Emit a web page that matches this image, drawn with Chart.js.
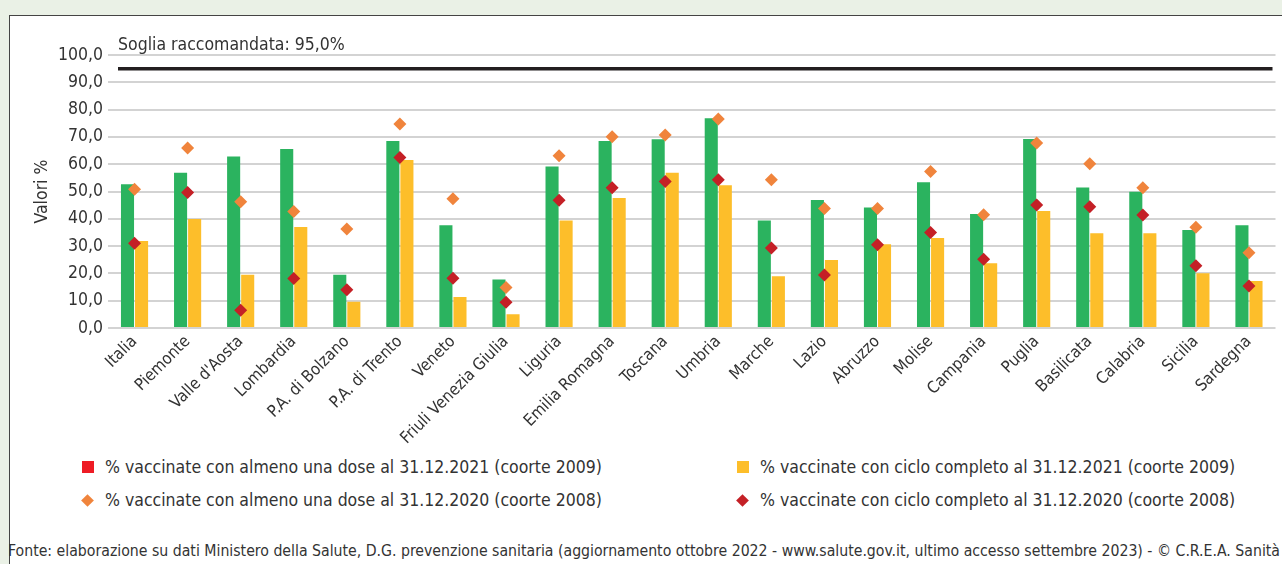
<!DOCTYPE html>
<html><head><meta charset="utf-8">
<script src="https://cdn.jsdelivr.net/npm/chart.js@4"></script>
<style>
html,body{margin:0;padding:0;width:1282px;height:564px;overflow:hidden;background:#EAF1E6;font-family:'Liberation Sans Narrow','DejaVu Sans Condensed',sans-serif;color:#333;}
#panel{position:absolute;left:9px;top:15px;width:1273px;height:549px;background:#fff;border-left:1.5px solid #444;border-top:1.5px solid #444;box-sizing:border-box;}
#c{position:absolute;left:0;top:0;}
.leg{position:absolute;font-size:17.5px;white-space:nowrap;line-height:20px;}
.sq{position:absolute;width:12px;height:12px;}
.dm{position:absolute;width:9px;height:9px;transform:rotate(45deg);}
#foot{position:absolute;left:8px;top:541px;font-size:16.5px;white-space:nowrap;line-height:20px;transform-origin:0 50%;}
</style></head><body>
<div id="panel"></div>
<canvas id="c" width="1282" height="455"></canvas>
<div class="sq" style="left:82px;top:461px;background:#EE1C25"></div>
<div class="leg" style="left:105px;top:457px">% vaccinate con almeno una dose al 31.12.2021 (coorte 2009)</div>
<div class="sq" style="left:737px;top:461px;background:#FDBE2A"></div>
<div class="leg" style="left:760px;top:457px">% vaccinate con ciclo completo al 31.12.2021 (coorte 2009)</div>
<div class="dm" style="left:83px;top:496px;background:#F0843C"></div>
<div class="leg" style="left:105px;top:490px">% vaccinate con almeno una dose al 31.12.2020 (coorte 2008)</div>
<div class="dm" style="left:738px;top:496px;background:#C42026"></div>
<div class="leg" style="left:760px;top:490px">% vaccinate con ciclo completo al 31.12.2020 (coorte 2008)</div>
<div id="foot">Fonte: elaborazione su dati Ministero della Salute, D.G. prevenzione sanitaria (aggiornamento ottobre 2022 - www.salute.gov.it, ultimo accesso settembre 2023) - © C.R.E.A. Sanità</div>
<script>
const categories = ["Italia","Piemonte","Valle d'Aosta","Lombardia","P.A. di Bolzano","P.A. di Trento","Veneto","Friuli Venezia Giulia","Liguria","Emilia Romagna","Toscana","Umbria","Marche","Lazio","Abruzzo","Molise","Campania","Puglia","Basilicata","Calabria","Sicilia","Sardegna"];
const almenoUnaDose2021 = [52.7,56.9,62.8,65.6,19.5,68.5,37.6,17.8,59.2,68.5,69.1,76.8,39.4,46.9,44.1,53.4,41.8,69.2,51.5,49.9,35.9,37.6];
const cicloCompleto2021 = [31.9,39.9,19.5,37.0,9.6,61.5,11.4,5.0,39.4,47.6,56.9,52.3,19.0,24.9,30.7,33.0,23.7,42.9,34.7,34.7,20.1,17.2];
const almenoUnaDose2020 = [50.8,65.9,46.2,42.7,36.3,74.7,47.3,14.8,63.1,70.1,70.7,76.6,54.3,43.8,43.8,57.3,41.5,67.8,60.2,51.4,36.9,27.6];
const cicloCompleto2020 = [31.0,49.6,6.5,18.1,14.0,62.5,18.2,9.4,46.8,51.4,53.7,54.3,29.3,19.4,30.5,35.0,25.2,45.1,44.4,41.4,22.8,15.4];
const yMin = 0, yMax = 100, yStep = 10;
const threshold = 95;
const thresholdLabel = "Soglia raccomandata: 95,0%";
const FONT = "'Liberation Sans Narrow','DejaVu Sans Condensed',sans-serif";

// fit the source line to the width it has in the original
const foot = document.getElementById('foot');
const fw = foot.getBoundingClientRect().width;
if (fw > 0) foot.style.transform = 'scaleX(' + (1272 / fw) + ')';

const thresholdPlugin = {
  id: 'threshold',
  afterDatasetsDraw(chart) {
    const {ctx, chartArea, scales} = chart;
    const y = scales.y;
    const py = y.getPixelForValue(threshold);
    ctx.save();
    ctx.strokeStyle = '#231F20';
    ctx.lineWidth = 3.5;
    ctx.beginPath();
    ctx.moveTo(chartArea.left + 10, py);
    ctx.lineTo(chartArea.right - 3, py);
    ctx.stroke();
    ctx.font = "17.5px " + FONT;
    ctx.fillStyle = '#333';
    ctx.textBaseline = 'alphabetic';
    ctx.fillText(thresholdLabel, chartArea.left + 10, y.getPixelForValue(yMax) - 5);
    ctx.restore();
  }
};

new Chart(document.getElementById('c'), {
  data: {
    labels: categories,
    datasets: [
      {type:'line', label:'% vaccinate con ciclo completo al 31.12.2020 (coorte 2008)', data:cicloCompleto2020, showLine:false, pointStyle:'rectRot', pointRadius:6.5, pointBackgroundColor:'#C42026', pointBorderWidth:0, order:0},
      {type:'line', label:'% vaccinate con almeno una dose al 31.12.2020 (coorte 2008)', data:almenoUnaDose2020, showLine:false, pointStyle:'rectRot', pointRadius:6.5, pointBackgroundColor:'#F0843C', pointBorderWidth:0, order:1},
      {type:'bar', label:'% vaccinate con almeno una dose al 31.12.2021 (coorte 2009)', data:almenoUnaDose2021, backgroundColor:'#2BB35F', categoryPercentage:0.53, barPercentage:0.93, order:2},
      {type:'bar', label:'% vaccinate con ciclo completo al 31.12.2021 (coorte 2009)', data:cicloCompleto2021, backgroundColor:'#FDBE2A', categoryPercentage:0.53, barPercentage:0.93, order:2}
    ]
  },
  options: {
    responsive:false, animation:false, devicePixelRatio:1,
    layout:{padding:{top:55, left:28, right:4, bottom:0}},
    plugins:{legend:{display:false}, tooltip:{enabled:false}},
    scales:{
      x:{
        grid:{display:false, drawTicks:false}, border:{display:false},
        ticks:{minRotation:45, maxRotation:45, autoSkip:false, color:'#333', font:{family:FONT, size:16.5}, padding:4},
        afterFit(s){ s.height = 127; }
      },
      y:{
        min:yMin, max:yMax,
        grid:{color:'#D3D3D3', lineWidth:2, drawTicks:false}, border:{display:false},
        ticks:{stepSize:yStep, color:'#333', font:{family:FONT, size:17.5}, padding:5, callback:v=>v.toFixed(1).replace('.',',')},
        title:{display:true, text:'Valori %', color:'#333', font:{family:FONT, size:17.5}},
        afterFit(s){ s.width = 80; }
      }
    }
  },
  plugins:[thresholdPlugin]
});
</script>
</body></html>
